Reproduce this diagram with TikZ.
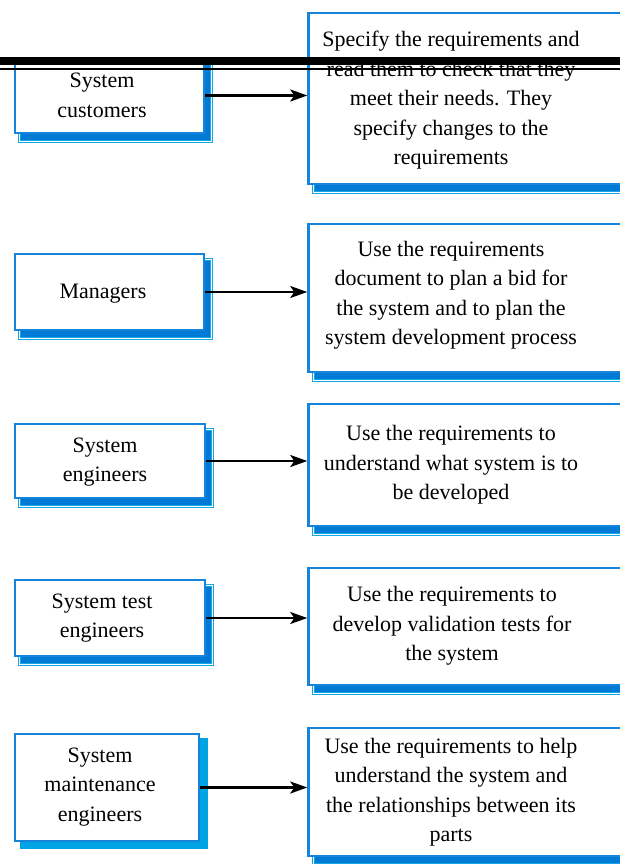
\documentclass[tikz,border=0pt]{standalone}
\usepackage{fontspec}
\setmainfont{Liberation Serif}
\usetikzlibrary{arrows.meta,backgrounds}
\definecolor{boxblue}{RGB}{22,132,218}
\definecolor{shband}{RGB}{0,122,212}
\definecolor{shline}{RGB}{18,168,232}
\definecolor{shsolid}{RGB}{0,164,228}
\begin{document}
\begin{tikzpicture}[x=1pt,y=-1pt,
  box/.style={draw=boxblue, line width=2.5pt, fill=white, rectangle, inner sep=0pt},
  txt/.style={align=center, font=\fontsize{22}{29.5}\selectfont, inner sep=0pt},
  shadowA/.style={fill=shband, draw=shline, line width=1.2pt, double=white, double distance=0.9pt},
  shadowB/.style={fill=shsolid, draw=shsolid, line width=1pt},
  arr/.style={line width=2.4pt, -{Stealth[length=17pt,width=12pt,inset=4pt]}}]
\useasboundingbox (0,0) rectangle (620,864);

% left boxes
\node[box, minimum width=189pt, minimum height=75pt] (c1) at (109.5,95.5) {};
\node[box, minimum width=189pt, minimum height=76pt] (c2) at (109.5,292) {};
\node[box, minimum width=190pt, minimum height=74pt] (c3) at (110,461) {};
\node[box, minimum width=190pt, minimum height=76pt] (c4) at (110,618) {};
\node[box, minimum width=184pt, minimum height=107pt] (c5) at (107,787.5) {};

% right boxes
\node[box, minimum width=350pt, minimum height=171pt] (r1) at (483.5,98.5) {};
\node[box, minimum width=350pt, minimum height=148pt] (r2) at (483.5,298) {};
\node[box, minimum width=350pt, minimum height=122pt] (r3) at (483.5,465) {};
\node[box, minimum width=350pt, minimum height=117pt] (r4) at (483.5,626.5) {};
\node[box, minimum width=350pt, minimum height=128pt] (r5) at (483.5,792) {};

% shadows
\begin{scope}[on background layer]
\foreach \n in {c1,c2,c3,c4,r1,r2,r3,r4,r5}
  \draw[shadowA] ([shift={(6pt,-7pt)}]\n.south west) rectangle ([shift={(6pt,-7pt)}]\n.north east);
\draw[shadowB] ([shift={(7pt,-6pt)}]c5.south west) rectangle ([shift={(7pt,-6pt)}]c5.north east);
\end{scope}

% left texts
\node[txt] (c1t) at (102,95.5) {System\\customers};
\node[txt] (c2t) at (103,294) {Managers};
\node[txt] (c3t) at (105,462) {System\\engineers};
\node[txt] (c4t) at (102,618) {System test\\engineers};
\node[txt] (c5t) at (100,787) {System\\maintenance\\engineers};

% right texts
\node[txt] (r1t) at (451,100.5) {Specify the requirements and\\read them to check that they\\meet their needs. They\\specify changes to the\\requirements};
\node[txt] (r2t) at (451,295) {Use the requirements\\document to plan a bid for\\the system and to plan the\\system development process};
\node[txt] (r3t) at (451,465) {Use the requirements to\\understand what system is to\\be developed};
\node[txt] (r4t) at (452,626) {Use the requirements to\\develop validation tests for\\the system};
\node[txt] (r5t) at (451,792) {Use the requirements to help\\understand the system and\\the relationships between its\\parts};

% arrows
\draw[arr] (c1.east) -- (c1.east -| r1.west);
\draw[arr] (c2.east) -- (c2.east -| r2.west);
\draw[arr] (c3.east) -- (c3.east -| r3.west);
\draw[arr] (c4.east) -- (c4.east -| r4.west);
\draw[arr] (c5.east) -- (c5.east -| r5.west);

% black bars across the top
\fill[black] (0,57.5) rectangle (620,65);
\fill[black] (0,67.7) rectangle (620,69.7);
\end{tikzpicture}
\end{document}
